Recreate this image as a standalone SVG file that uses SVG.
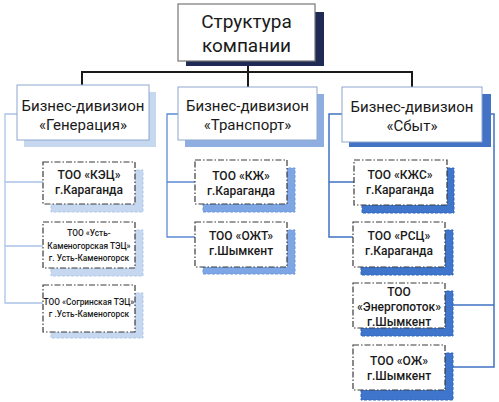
<svg xmlns="http://www.w3.org/2000/svg" width="499" height="402" viewBox="0 0 499 402">
<style>
text{font-family:Roboto,"Noto Sans","DejaVu Sans",sans-serif;fill:#1a1a1a;text-anchor:middle;dominant-baseline:central}
.top{font-size:19px}
.div{font-size:15px}
.co{font-size:12px;font-weight:500}
.sm{font-size:8.3px;font-weight:500}
.box{fill:#fff;stroke:#3a3a3a;stroke-width:1.2;stroke-dasharray:6 2 1.5 2}
.dbox{fill:#fff;stroke:#8ea6cc;stroke-width:1}
.s1{fill:#c6d8f0;stroke:#b3c9ea;stroke-dasharray:3 1.5}
.s2{fill:#7ea6e4;stroke:#6d98dd;stroke-dasharray:3 1.5}
.s3{fill:#3f76cc;stroke:#2f66be;stroke-dasharray:3 1.5}
.main{stroke:#1a1a1a;stroke-width:2;fill:none}
.b1{stroke:#a9c4e8;stroke-width:1.3;fill:none}
.b2{stroke:#5b8bd4;stroke-width:1.3;fill:none}
.b3{stroke:#3f72c4;stroke-width:1.5;fill:none}
</style>
<rect width="499" height="402" fill="#fff"/>
<g id="connectors">
<path class="main" d="M248 61V87M82 72H412M82 71V85M412 71V87"/>
<path class="b1" d="M17 114H5V303H43M5 182H43M5 246H43"/>
<path class="b2" d="M178 114H167V237H195M167 182H195"/>
<path class="b3" d="M342 114H329V237H353M329 182H354"/>
<path class="b3" d="M482 114H494V367H453M494 305H453"/>
</g>
<g id="top">
<rect x="186" y="12" width="138" height="54" fill="#1f2b55"/>
<rect x="178" y="4" width="137" height="57" fill="#fff" stroke="#777" stroke-width="1.2"/>
<text class="top" x="246.5" y="21">Структура</text>
<text class="top" x="246.5" y="45">компании</text>
</g>
<g id="div-gen">
<rect x="24" y="92" width="132" height="55" fill="#c6d8f0"/>
<rect class="dbox" x="17" y="85" width="132" height="55"/>
<text class="div" x="83" y="106">Бизнес-дивизион</text>
<text class="div" x="83" y="125">«Генерация»</text>
</g>
<g id="div-trans">
<rect x="185" y="94" width="139" height="53" fill="#8eaee2"/>
<rect class="dbox" x="178" y="87" width="139" height="53"/>
<text class="div" x="247.5" y="106">Бизнес-дивизион</text>
<text class="div" x="247.5" y="125">«Транспорт»</text>
</g>
<g id="div-sbyt">
<rect x="349" y="94" width="142" height="53" fill="#4472c4"/>
<rect class="dbox" x="342" y="87" width="140" height="55"/>
<text class="div" x="412" y="107">Бизнес-дивизион</text>
<text class="div" x="412" y="126">«Сбыт»</text>
</g>
<g id="kec">
<rect class="s1" x="51" y="170" width="92" height="42"/>
<rect class="box" x="43" y="162" width="92" height="42"/>
<text class="co" x="89" y="175">ТОО «КЭЦ»</text>
<text class="co" x="89" y="190">г.Караганда</text>
</g>
<g id="ukt">
<rect class="s1" x="51" y="230" width="92" height="46"/>
<rect class="box" x="43" y="222" width="92" height="46"/>
<text class="sm" x="89" y="233">ТОО «Усть-</text>
<text class="sm" x="89" y="246">Каменогорская ТЭЦ»</text>
<text class="sm" x="89" y="258">г. Усть-Каменогорск</text>
</g>
<g id="sogr">
<rect class="s1" x="51" y="293" width="92" height="45"/>
<rect class="box" x="43" y="285" width="92" height="47"/>
<text class="sm" x="89" y="302">ТОО «Согринская ТЭЦ»</text>
<text class="sm" x="89" y="314">г .Усть-Каменогорск</text>
</g>
<g id="kzh">
<rect class="s2" x="203" y="168" width="92" height="44"/>
<rect class="box" x="195" y="160" width="92" height="44"/>
<text class="co" x="241" y="176">ТОО «КЖ»</text>
<text class="co" x="241" y="191">г.Караганда</text>
</g>
<g id="ozht">
<rect class="s2" x="203" y="230" width="92" height="44"/>
<rect class="box" x="195" y="222" width="92" height="45"/>
<text class="co" x="241" y="236">ТОО «ОЖТ»</text>
<text class="co" x="241" y="251">г.Шымкент</text>
</g>
<g id="kzhs">
<rect class="s3" x="362" y="168" width="92" height="45"/>
<rect class="box" x="354" y="160" width="93" height="45"/>
<text class="co" x="400" y="175">ТОО «КЖС»</text>
<text class="co" x="400" y="190">г.Караганда</text>
</g>
<g id="rsc">
<rect class="s3" x="361" y="230" width="92" height="45"/>
<rect class="box" x="353" y="222" width="92" height="45"/>
<text class="co" x="399" y="236">ТОО «РСЦ»</text>
<text class="co" x="399" y="251">г.Караганда</text>
</g>
<g id="energopotok">
<rect class="s3" x="361" y="291" width="92" height="45"/>
<rect class="box" x="353" y="283" width="92" height="45"/>
<text class="co" x="399" y="292">ТОО</text>
<text class="co" x="399" y="307">«Энергопоток»</text>
<text class="co" x="399" y="322">г.Шымкент</text>
</g>
<g id="ozh">
<rect class="s3" x="361" y="353" width="92" height="47"/>
<rect class="box" x="353" y="345" width="92" height="45"/>
<text class="co" x="399" y="361">ТОО «ОЖ»</text>
<text class="co" x="399" y="376">г.Шымкент</text>
</g>
</svg>
